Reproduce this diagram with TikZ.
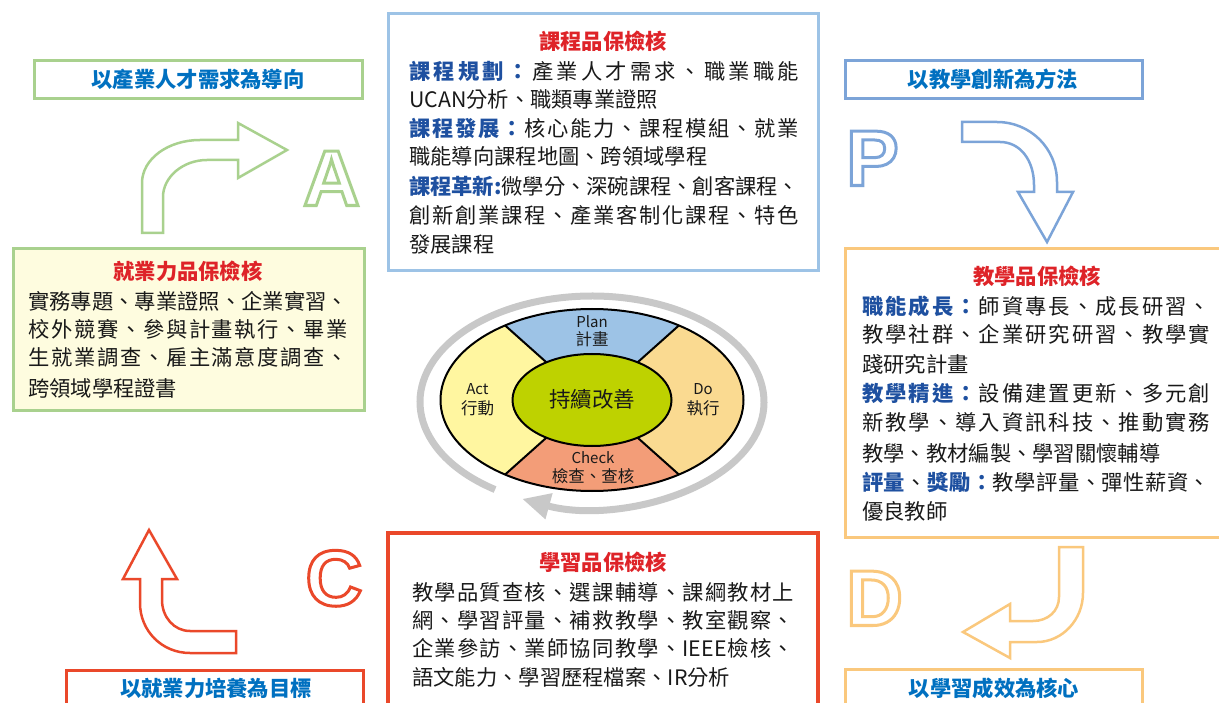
\documentclass[tikz,border=0pt]{standalone}
\usepackage{fontspec}
\setmainfont{Noto Sans CJK TC}
\newfontfamily\letterfont{Liberation Sans}
\usetikzlibrary{arrows.meta}
\definecolor{topblue}{RGB}{157,195,230}
\definecolor{hblue}{RGB}{124,164,216}
\definecolor{lgreen}{RGB}{169,209,142}
\definecolor{lorange}{RGB}{250,200,125}
\definecolor{lred}{RGB}{234,72,42}
\definecolor{ttlred}{RGB}{222,35,40}
\definecolor{lbl}{RGB}{30,80,160}
\definecolor{hdrblue}{RGB}{0,112,192}
\definecolor{txt}{RGB}{25,25,25}
\definecolor{yfill}{RGB}{254,252,223}
\definecolor{planc}{RGB}{157,195,230}
\definecolor{doc}{RGB}{250,218,145}
\definecolor{checkc}{RGB}{243,157,120}
\definecolor{actc}{RGB}{255,246,160}
\definecolor{centc}{RGB}{190,210,0}
\definecolor{ringgray}{RGB}{200,200,200}
\def\bl{\color{lbl}\bfseries}
\def\bk{\color{txt}\mdseries}
\def\ieee{\mbox{IEEE}}
\def\spr#1{\ifx#1\relax\else\ifx#1\bl\bl\else\ifx#1\bk\bk\else#1\hskip0pt plus1fil minus1pt\fi\fi\expandafter\spr\fi}
\newcommand\jl[2]{\hbox to #1{\spr#2\relax\hskip0pt plus -1fil\relax}}
\newcommand\outl[1]{\special{pdf:literal direct 1 Tr 3 w}#1\special{pdf:literal direct 0 Tr}}
\tikzset{
  body/.style={font=\fontsize{21.3}{29}\selectfont, text=txt, inner sep=0pt, anchor=base west},
  ttl/.style={font=\fontsize{21.3}{29}\selectfont\bfseries, text=ttlred, inner sep=0pt, anchor=base},
  hdr/.style={font=\fontsize{21.3}{29}\selectfont\bfseries, text=hdrblue, inner sep=0pt, anchor=base},
  qbox/.style={line width=3pt, inner sep=0pt, outer sep=0pt, anchor=north west},
  blockarrow/.style={line width=2.5pt, fill=white, line join=miter},
  bigletter/.style={font=\letterfont\bfseries\fontsize{79}{80}\selectfont, inner sep=0pt, anchor=base},
  pdca/.style={draw=black, line width=2pt},
  lab/.style={font=\fontsize{15}{18}\selectfont, text=txt, inner sep=0pt, anchor=base},
  labc/.style={font=\fontsize{16.5}{18}\selectfont, text=txt, inner sep=0pt, anchor=base},
  ring/.style={draw=ringgray, line width=7pt, -{Triangle[width=25pt,length=28pt]}}
}
\begin{document}
\begin{tikzpicture}[x=1pt,y=-1pt]
\useasboundingbox (0,0) rectangle (1219,703);
\clip (0,0) rectangle (1219,703);
% boxes
\node[qbox, draw=topblue, minimum width=430pt, minimum height=257pt] (topbox) at (388,14) {};
\node[qbox, draw=lgreen, fill=yfill, minimum width=351pt, minimum height=162pt] (leftbox) at (13,249) {};
\node[qbox, draw=lorange, minimum width=377pt, minimum height=288pt] (rightbox) at (845,249) {};
\node[qbox, draw=lred, line width=3.5pt, minimum width=430pt, minimum height=190pt] (botbox) at (388,533) {};
\node[qbox, draw=lgreen, minimum width=328pt, minimum height=38pt] (ghdr) at (34,61) {};
\node[qbox, draw=hblue, minimum width=297pt, minimum height=38pt] (bhdr) at (845,61) {};
\node[qbox, draw=lred, minimum width=297pt, minimum height=50pt] (rhdr) at (66,670) {};
\node[qbox, draw=lorange, minimum width=297pt, minimum height=50pt] (ohdr) at (845,669) {};
% header texts
\node[hdr] (ght) at (198,88) {以產業人才需求為導向};
\node[hdr] (bht) at (993,88) {以教學創新為方法};
\node[hdr] (rht) at (216,696) {以就業力培養為目標};
\node[hdr] (oht) at (994,696) {以學習成效為核心};
% top box
\node[ttl] (tt) at (603,50) {課程品保檢核};
\node[body] (t1) at (409,80) {\jl{390pt}{\bl 課程規劃：\bk 產業人才需求、職業職能}};
\node[body] (t2) at (409,108) {UCAN分析、職類專業證照};
\node[body] (t3) at (409,137) {\jl{390pt}{\bl 課程發展：\bk 核心能力、課程模組、就業}};
\node[body] (t4) at (409,165) {職能導向課程地圖、跨領域學程};
\node[body] (t5) at (409,195) {\jl{390pt}{\bl 課程革新:\bk 微學分、深碗課程、創客課程、}};
\node[body] (t6) at (409,224) {\jl{390pt}{創新創業課程、產業客制化課程、特色}};
\node[body] (t7) at (409,253) {發展課程};
% left box
\node[ttl] (lt) at (188,280) {就業力品保檢核};
\node[body] (l1) at (28,310) {\jl{320pt}{實務專題、專業證照、企業實習、}};
\node[body] (l2) at (28,338) {\jl{320pt}{校外競賽、參與計畫執行、畢業}};
\node[body] (l3) at (28,366) {\jl{320pt}{生就業調查、雇主滿意度調查、}};
\node[body] (l4) at (28,396) {跨領域學程證書};
% right box
\node[ttl] (rt) at (1037,285) {教學品保檢核};
\node[body] (r1) at (862,315) {\jl{348pt}{\bl 職能成長：\bk 師資專長、成長研習、}};
\node[body] (r2) at (862,343) {\jl{348pt}{教學社群、企業研究研習、教學實}};
\node[body] (r3) at (862,373) {踐研究計畫};
\node[body] (r4) at (862,402) {\jl{348pt}{\bl 教學精進：\bk 設備建置更新、多元創}};
\node[body] (r5) at (862,431) {\jl{348pt}{新教學、導入資訊科技、推動實務}};
\node[body] (r6) at (862,461) {教學、教材編製、學習關懷輔導};
\node[body] (r7) at (862,490) {\jl{348pt}{\bl 評量\bk 、\bl 獎勵：\bk 教學評量、彈性薪資、}};
\node[body] (r8) at (862,519) {優良教師};
% bottom box
\node[ttl] (bt) at (603,570) {學習品保檢核};
\node[body] (b1) at (412,600) {\jl{382pt}{教學品質查核、選課輔導、課綱教材上}};
\node[body] (b2) at (412,628) {\jl{382pt}{網、學習評量、補救教學、教室觀察、}};
\node[body] (b3) at (412,656) {\jl{382pt}{企業參訪、業師協同教學、\ieee 檢核、}};
\node[body] (b4) at (412,685) {語文能力、學習歷程檔案、IR分析};
% block arrows
\draw[blockarrow, draw=lgreen] (142,233) -- (142,183) .. controls (142,159) and (168,140) .. (200,140) -- (238,140) -- (238,123) -- (287,150) -- (238,178) -- (238,160) -- (207,160) .. controls (183,160) and (163,177) .. (163,197) -- (163,233) -- cycle;
\draw[blockarrow, draw=hblue] (962,122) -- (997,122) .. controls (1030,122) and (1057,148) .. (1057,182) -- (1057,192) -- (1073,192) -- (1047,242) -- (1018,192) -- (1034,192) -- (1034,185) .. controls (1034,160) and (1020,142) .. (1000,142) -- (962,142) -- cycle;
\draw[blockarrow, draw=lorange] (1059,547) -- (1083,547) -- (1083,593) .. controls (1083,620) and (1062,642) .. (1037,642) -- (1010,642) -- (1010,658) -- (963,632) -- (1010,604) -- (1010,621) -- (1033,621) .. controls (1048,621) and (1059,611) .. (1059,597) -- cycle;
\draw[blockarrow, draw=lred] (149,530) -- (177,579) -- (162,579) -- (162,600) .. controls (162,617) and (174,631) .. (190,631) -- (236,631) -- (236,653) -- (190,653) .. controls (162,653) and (140,631) .. (140,603) -- (140,579) -- (123,579) -- cycle;
% letters
\node[bigletter, text=lgreen] (la) at (331.5,205.5) {\outl{A}};
\node[bigletter, text=hblue] (lp) at (872.5,185.5) {\outl{P}};
\node[bigletter, text=lred] (lc) at (334,605.5) {\outl{C}};
\node[bigletter, text=lorange] (ld) at (874.5,625.5) {\outl{D}};
% ring
\begin{scope}[shift={(592,402)}, y=1pt]
\draw[ring] (235.7:172 and 106) arc[start angle=235.7, end angle=-114, x radius=172, y radius=106];
\end{scope}
% PDCA
\begin{scope}[shift={(592,400)}, y=1pt]
\fill[planc] (55:151.5 and 91) arc[start angle=55,end angle=125,x radius=151.5,y radius=91] -- (125:79.5 and 46) arc[start angle=125,end angle=55,x radius=79.5,y radius=46] -- cycle;
\fill[actc] (125:151.5 and 91) arc[start angle=125,end angle=235,x radius=151.5,y radius=91] -- (235:79.5 and 46) arc[start angle=235,end angle=125,x radius=79.5,y radius=46] -- cycle;
\fill[checkc] (235:151.5 and 91) arc[start angle=235,end angle=305,x radius=151.5,y radius=91] -- (305:79.5 and 46) arc[start angle=305,end angle=235,x radius=79.5,y radius=46] -- cycle;
\fill[doc] (305:151.5 and 91) arc[start angle=305,end angle=415,x radius=151.5,y radius=91] -- (415:79.5 and 46) arc[start angle=415,end angle=305,x radius=79.5,y radius=46] -- cycle;
\draw[pdca] (0,0) ellipse [x radius=151.5, y radius=91];
\draw[pdca] (55:151.5 and 91) -- (55:79.5 and 46);
\draw[pdca] (125:151.5 and 91) -- (125:79.5 and 46);
\draw[pdca] (235:151.5 and 91) -- (235:79.5 and 46);
\draw[pdca] (305:151.5 and 91) -- (305:79.5 and 46);
\draw[pdca, fill=centc] (0,0) ellipse [x radius=79.5, y radius=46];
\end{scope}
\node[font=\fontsize{21.5}{24}\selectfont, text=txt, inner sep=0pt, anchor=base] (cen) at (592,408) {持續改善};
\node[lab] (plan) at (592,328) {Plan};
\node[labc] (plan2) at (592,346) {計畫};
\node[lab] (act) at (477.5,395) {Act};
\node[labc] (act2) at (477.5,414) {行動};
\node[lab] (do) at (703,395) {Do};
\node[labc] (do2) at (703,414) {執行};
\node[lab] (chk) at (593,463) {Check};
\node[labc] (chk2) at (593,482) {檢查、查核};
\end{tikzpicture}
\end{document}
